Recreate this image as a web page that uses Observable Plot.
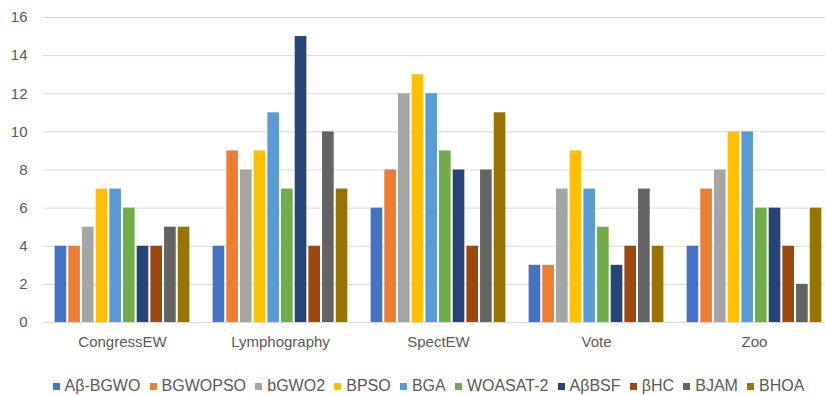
<!DOCTYPE html>
<html>
<head>
<meta charset="utf-8">
<script src="https://cdn.jsdelivr.net/npm/d3@7"></script>
<script src="https://cdn.jsdelivr.net/npm/@observablehq/plot@0.6"></script>
<style>
  html, body { margin: 0; padding: 0; background: #fff; }
  #chart { width: 825px; height: 395px; position: relative; overflow: hidden; }
  .legend {
    position: absolute; left: 16px; top: 377px; width: 825px;
    display: flex; justify-content: center; align-items: center;
    font: 16px "Liberation Sans", Arial, sans-serif; color: #595959;
    white-space: nowrap;
  }
  .legend .item { display: flex; align-items: center; margin: 0 4.6px; }
  .legend .sw { width: 7px; height: 7px; margin-right: 5px; }
</style>
</head>
<body>
<div id="chart"></div>
<script>
// Datasets on the x axis
const categories = ["CongressEW", "Lymphography", "SpectEW", "Vote", "Zoo"];

// Algorithms (one bar per dataset each)
const series = ["Aβ-BGWO", "BGWOPSO", "bGWO2", "BPSO", "BGA", "WOASAT-2", "AβBSF", "βHC", "BJAM", "BHOA"];

// Values per algorithm, in the order of categories
const abBGWO   = [4, 4, 6, 3, 4];
const bgwopso  = [4, 9, 8, 3, 7];
const bgwo2    = [5, 8, 12, 7, 8];
const bpso     = [7, 9, 13, 9, 10];
const bga      = [7, 11, 12, 7, 10];
const woasat2  = [6, 7, 9, 5, 6];
const abBSF    = [4, 15, 8, 3, 6];
const bHC      = [4, 4, 4, 4, 4];
const bjam     = [5, 10, 8, 7, 2];
const bhoa     = [5, 7, 11, 4, 6];

const seriesValues = [abBGWO, bgwopso, bgwo2, bpso, bga, woasat2, abBSF, bHC, bjam, bhoa];

const colors = ["#4472C4", "#ED7D31", "#A5A5A5", "#FFC000", "#5B9BD5",
                "#70AD47", "#264478", "#9E480E", "#636363", "#997300"];

const yTicks = [0, 2, 4, 6, 8, 10, 12, 14, 16];

const rows = [];
categories.forEach((c, i) => {
  series.forEach((s, j) => {
    rows.push({category: c, series: s, value: seriesValues[j][i]});
  });
});

const font = '"Liberation Sans", Arial, sans-serif';

const chart = Plot.plot({
  width: 825,
  height: 360,
  marginLeft: 43,
  marginRight: 0,
  marginTop: 17,
  marginBottom: 38,
  style: {fontFamily: font, fontSize: "15px", color: "#595959", background: "#fff"},
  fx: {domain: categories, range: [43, 833], padding: 0, label: null, tickSize: 0, tickPadding: 14},
  x: {domain: series, axis: null, paddingInner: 0.15, paddingOuter: 0.85, round: false},
  y: {domain: [0, 16], ticks: yTicks, label: null, tickSize: 0, tickPadding: 16, tickFormat: d3.format("d")},
  color: {domain: series, range: colors},
  marks: [
    Plot.gridY(yTicks, {stroke: "#d9d9d9", strokeOpacity: 1, strokeWidth: 1}),
    Plot.barY(rows, {fx: "category", x: "series", y: "value", fill: "series"}),
    Plot.ruleY([0], {stroke: "#d9d9d9", strokeWidth: 1})
  ]
});

const root = document.getElementById("chart");
root.appendChild(chart);

// Legend row below the plot
const legend = document.createElement("div");
legend.className = "legend";
series.forEach((s, j) => {
  const item = document.createElement("div");
  item.className = "item";
  const sw = document.createElement("span");
  sw.className = "sw";
  sw.style.background = colors[j];
  const label = document.createElement("span");
  label.textContent = s;
  item.appendChild(sw);
  item.appendChild(label);
  legend.appendChild(item);
});
root.appendChild(legend);
</script>
</body>
</html>
